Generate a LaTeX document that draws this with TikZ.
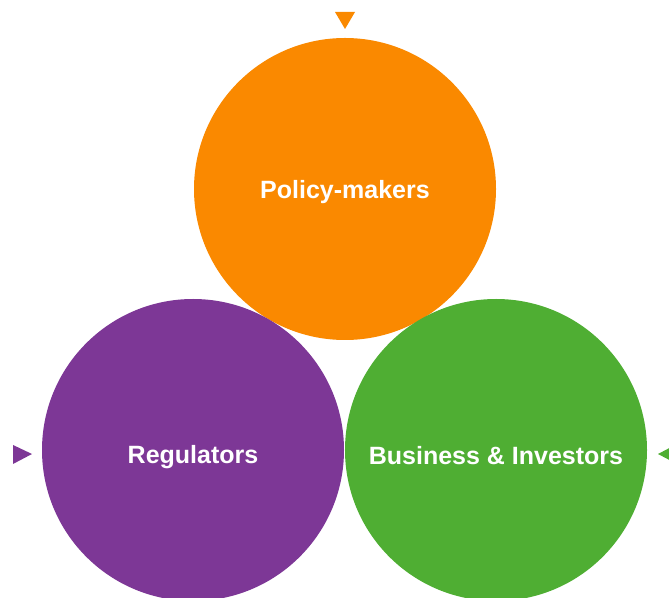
\documentclass[tikz,border=0pt]{standalone}
\usepackage{fontspec}
\setmainfont{Liberation Sans}
\definecolor{corange}{HTML}{FA8900}
\definecolor{cpurple}{HTML}{7D3796}
\definecolor{cgreen}{HTML}{4FAE33}
\begin{document}
\begin{tikzpicture}[x=1pt,y=1pt,
  bubble/.style={circle,minimum size=302pt,inner sep=0pt},
  btext/.style={text=white,inner sep=0pt,font=\fontsize{25}{29}\selectfont\bfseries}]
\useasboundingbox (0,0) rectangle (669,597);
\begin{scope}
\clip (0,0) rectangle (669,597);
\node[bubble,fill=corange] (policy) at (345,408) {};
\node[bubble,fill=cpurple] (reg) at (193,147) {};
\node[bubble,fill=cgreen] (biz) at (496,147) {};
\node[btext,yshift=-3pt] (policyT) at (policy.center) {Policy-makers};
\node[btext,yshift=-7pt] (regT) at (reg.center) {Regulators};
\node[btext,yshift=-6pt] (bizT) at (biz.center) {Business \& Investors};
\fill[corange] (335,585) -- (355,585) -- (345,568) -- cycle;
\fill[cpurple] (13,152) -- (13,133) -- (32,143) -- cycle;
\fill[cgreen] (658,143) -- (677,153) -- (677,133) -- cycle;
\end{scope}
\end{tikzpicture}
\end{document}
